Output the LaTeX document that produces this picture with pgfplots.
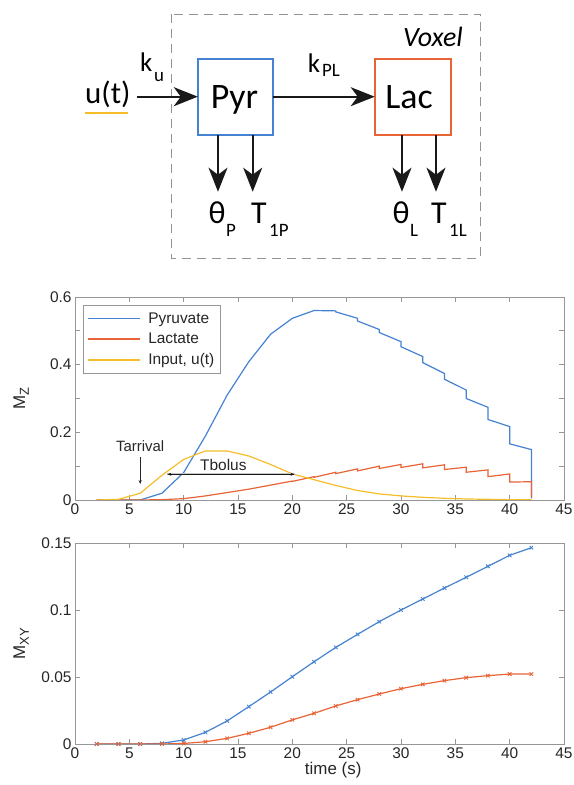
\documentclass[border=0pt]{standalone}
\usepackage{pgfplots}
\pgfplotsset{compat=1.18}
\usepackage{fontspec}
\setmainfont{Liberation Sans}
\newfontfamily\diag{Carlito}
\usetikzlibrary{arrows.meta}
\definecolor{mblue}{RGB}{70,130,210}
\definecolor{morange}{RGB}{232,100,55}
\definecolor{myellow}{RGB}{245,190,40}
\definecolor{framegray}{RGB}{150,150,150}
\definecolor{txt}{RGB}{38,38,38}
\definecolor{arr}{RGB}{25,25,25}
\pgfplotsset{
  mystyle/.style={
    scale only axis, width=489bp, anchor=south west,
    xmin=0, xmax=45, xtick={0,5,10,15,20,25,30,35,40,45},
    axis line style={framegray, line width=0.8bp},
    tick style={framegray, line width=0.8bp},
    tick align=inside, major tick length=5bp,
    tick label style={font=\fontsize{15.5}{15.5}\selectfont, text=txt},
    /pgf/number format/assume math mode=true,
    label style={font=\fontsize{17}{17}\selectfont, text=txt},
  }
}
\begin{document}
\begin{tikzpicture}
\path[use as bounding box] (0,0) rectangle (574bp,785bp);
\begin{scope}[x=1bp,y=-1bp,shift={(0,785bp)}]
  \draw[gray!85, line width=1.3bp, dash pattern=on 9bp off 6bp] (171.4,14.3) rectangle (480.6,258.3);
  \draw[mblue, line width=1.8bp] (197.8,59.3) rectangle (272.9,135);
  \draw[morange, line width=1.8bp] (374.7,59.3) rectangle (451.3,135);
  \node[font=\diag\fontsize{36}{36}\selectfont, anchor=base, inner sep=0] at (234.5,108.8) {Pyr};
  \node[font=\diag\fontsize{36}{36}\selectfont, anchor=base, inner sep=0] at (409,108.8) {Lac};
  \node[font=\diag\fontsize{31}{31}\selectfont, anchor=base west, inner sep=0] at (85,103.5) {u(t)};
  \draw[myellow, line width=2bp] (84.6,112.7) -- (128,112.7);
  \node[font=\diag\fontsize{28}{28}\selectfont\itshape, anchor=base west, inner sep=0] at (403,46.7) {Voxel};
  % k_u
  \node[font=\diag\fontsize{27}{27}\selectfont, anchor=base west, inner sep=0] at (140,71.7) {k};
  \node[font=\diag\fontsize{19}{19}\selectfont, anchor=base west, inner sep=0] at (154,81.7) {u};
  % k_PL
  \node[font=\diag\fontsize{27}{27}\selectfont, anchor=base west, inner sep=0] at (307.7,73) {k};
  \node[font=\diag\fontsize{19}{19}\selectfont, anchor=base west, inner sep=0] at (322,77) {PL};
  % arrows
  \draw[arr, line width=2bp, -{Stealth[length=24bp,width=19bp,inset=7bp]}] (136.6,96.7) -- (197.8,96.7);
  \draw[arr, line width=2bp, -{Stealth[length=24bp,width=19bp,inset=7bp]}] (272.9,96.7) -- (374.7,96.7);
  \foreach \xx in {218,252.7,402,436}{
    \draw[arr, line width=2bp, -{Stealth[length=24bp,width=19bp,inset=7bp]}] (\xx,135) -- (\xx,191.7);
  }
  % labels
  \node[font=\diag\fontsize{32}{32}\selectfont, anchor=base, inner sep=0] at (217,223.3) {θ};
  \node[font=\diag\fontsize{19}{19}\selectfont, anchor=base west, inner sep=0] at (226,236.7) {P};
  \node[font=\diag\fontsize{32}{32}\selectfont, anchor=base, inner sep=0] at (259,223.3) {T};
  \node[font=\diag\fontsize{19}{19}\selectfont, anchor=base west, inner sep=0] at (269,236.7) {1P};
  \node[font=\diag\fontsize{32}{32}\selectfont, anchor=base, inner sep=0] at (401,223.3) {θ};
  \node[font=\diag\fontsize{19}{19}\selectfont, anchor=base west, inner sep=0] at (410,236.7) {L};
  \node[font=\diag\fontsize{32}{32}\selectfont, anchor=base, inner sep=0] at (439,223.3) {T};
  \node[font=\diag\fontsize{19}{19}\selectfont, anchor=base west, inner sep=0] at (449,236.7) {1L};
\end{scope}

\begin{axis}[mystyle, at={(75bp,285bp)}, height=203bp,
  ymin=0, ymax=0.6, ytick={0,0.1,0.2,0.3,0.4,0.5,0.6}, yticklabels={0,,0.2,,0.4,,0.6},
  ylabel={M\raisebox{-0.4ex}{\fontsize{13}{13}\selectfont Z}},
  ylabel style={at={(axis description cs:-0.11,0.5)}, anchor=center},
  legend style={at={(axis description cs:0.0157,0.9606)}, anchor=north west, draw=framegray, line width=0.8bp,
    font=\fontsize{15.5}{17}\selectfont, text=txt, cells={anchor=west},
    inner xsep=4bp, inner ysep=5bp, row sep=4.5bp},
  legend image code/.code={\draw[#1] (3bp,0bp) -- (55bp,0bp); \path (61bp,0bp);},
]
\addlegendimage{color=mblue, line width=1.2bp}
\addlegendentry{Pyruvate}
\addlegendimage{color=morange, line width=1.2bp}
\addlegendentry{Lactate}
\addlegendimage{color=myellow, line width=1.2bp}
\addlegendentry{Input, u(t)}
\addplot[color=mblue, line width=1.2bp, forget plot] coordinates {
(2,0)(4,0)(6,0)(8,0.02)(10,0.081)(12,0.189)(14,0.31)(16,0.409)(18,0.49)(20,0.537)(22,0.56)(24,0.559)(24,0.556)
(26,0.537)(26,0.529)(28,0.504)(28,0.495)(30,0.468)(30,0.453)(32,0.424)(32,0.406)(34,0.374)(34,0.357)
(36,0.325)(36,0.300)(38,0.274)(38,0.238)(40,0.217)(40,0.166)(42,0.149)(42,0.005)};
\addplot[color=morange, line width=1.2bp, forget plot] coordinates {
(2,0)(4,0)(6,0)(8,0.001)(10,0.004)(12,0.012)(14,0.022)(16,0.032)(18,0.044)(20,0.056)(20,0.055)(22,0.069)(22,0.067)
(24,0.082)(24,0.078)(26,0.092)(26,0.086)(28,0.100)(28,0.093)(30,0.105)(30,0.096)(32,0.107)(32,0.095)
(34,0.104)(34,0.090)(36,0.097)(36,0.082)(38,0.089)(38,0.069)(40,0.077)(40,0.053)(42,0.054)(42,0.008)};
\addplot[color=myellow, line width=1.2bp, forget plot] coordinates {
(2,0)(4,0.002)(6,0.02)(8,0.073)(10,0.12)(12,0.145)(14,0.145)(16,0.13)(18,0.105)(20,0.077)(22,0.06)(24,0.043)
(26,0.028)(28,0.018)(30,0.012)(32,0.008)(34,0.005)(36,0.003)(38,0.002)(40,0.001)(42,0.001)};
\node[font=\fontsize{15}{15}\selectfont, text=txt] at (axis cs:6,0.158) {Tarrival};
\draw[txt, line width=0.6bp, -{Stealth[length=4bp,width=3bp]}] (axis cs:6,0.128) -- (axis cs:6,0.047);
\node[font=\fontsize{15.5}{15.5}\selectfont, text=txt] at (axis cs:13.65,0.103) {Tbolus};
\draw[gray!45, line width=1.8bp] (axis cs:8.5,0.076) -- (axis cs:20.2,0.076);
\draw[arr, line width=0.5bp, {Stealth[length=4bp,width=3bp]}-{Stealth[length=4bp,width=3bp]}] (axis cs:8.5,0.076) -- (axis cs:20.2,0.076);
\end{axis}

\begin{axis}[mystyle, at={(75bp,41bp)}, height=201bp,
  ymin=0, ymax=0.15, ytick={0,0.05,0.1,0.15}, yticklabels={0,0.05,0.1,0.15},
  ylabel={M\raisebox{-0.4ex}{\fontsize{13}{13}\selectfont XY}},
  ylabel style={at={(axis description cs:-0.11,0.5)}, anchor=center},
  xlabel={time (s)},
  xlabel style={at={(axis description cs:0.528,-0.13)}, anchor=center},
]
\addplot[color=mblue, line width=1.2bp, mark=x, mark size=2.5bp, mark options={line width=0.9bp}] coordinates {
(2,0)(4,0)(6,0)(8,0.0005)(10,0.003)(12,0.0087)(14,0.0172)(16,0.0279)(18,0.0388)(20,0.0502)(22,0.0614)
(24,0.0721)(26,0.0818)(28,0.0913)(30,0.1)(32,0.1082)(34,0.1164)(36,0.1244)(38,0.1326)(40,0.1408)(42,0.1465)};
\addplot[color=morange, line width=1.2bp, mark=x, mark size=2.5bp, mark options={line width=0.9bp}] coordinates {
(2,0)(4,0)(6,0)(8,0)(10,0.0004)(12,0.0017)(14,0.0042)(16,0.008)(18,0.0125)(20,0.018)(22,0.0229)
(24,0.0284)(26,0.0331)(28,0.0373)(30,0.0413)(32,0.0445)(34,0.0473)(36,0.0495)(38,0.051)(40,0.0522)(42,0.0522)};
\end{axis}
\end{tikzpicture}
\end{document}
